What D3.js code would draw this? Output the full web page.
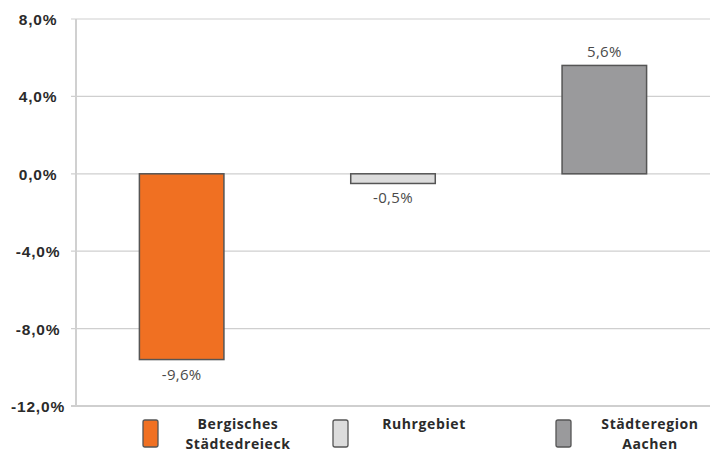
<!DOCTYPE html>
<html>
<head>
<meta charset="utf-8">
<script src="https://cdn.jsdelivr.net/npm/d3@7"></script>
<style>
  body { margin: 0; background: #fff; }
  svg { display: block; font-family: "Open Sans", sans-serif; }
  .tick text { font-weight: 700; font-size: 15.5px; fill: #2b2b2b; letter-spacing: 0.8px; }
  .val { font-size: 15px; fill: #4a4a4a; font-weight: 400; letter-spacing: 0.3px; }
  .leg { font-weight: 700; font-size: 14px; fill: #2b2b2b; letter-spacing: 0.6px; }
</style>
</head>
<body>
<svg id="chart" width="715" height="457"></svg>
<script>
const regions = ["Bergisches Städtedreieck", "Ruhrgebiet", "Städteregion Aachen"];
const values = [-9.6, -0.5, 5.6];
const colors = ["#f07022", "#dcdcdc", "#9a9a9c"];
const yTicks = [8, 4, 0, -4, -8, -12];
const legendLines = [["Bergisches", "Städtedreieck"], ["Ruhrgebiet"], ["Städteregion", "Aachen"]];

const svg = d3.select("#chart");
const fmt = v => d3.format(".1f")(v).replace(".", ",").replace("−", "-") + "%";

const x = d3.scaleBand().domain(regions).range([76, 710]).paddingInner(0.6).paddingOuter(0.3);
const y = d3.scaleLinear().domain([-12, 8]).range([406, 19]);

// gridlines
svg.append("g")
    .selectAll("line")
    .data(yTicks)
    .enter()
    .append("line")
    .attr("x1", 71).attr("x2", 710)
    .attr("y1", d => y(d)).attr("y2", d => y(d))
    .attr("stroke", "#cfcfcf")
    .attr("stroke-width", d => d === -12 ? 2 : 1.2);

// vertical axis line
svg.append("line")
    .attr("x1", 76).attr("x2", 76)
    .attr("y1", y(8)).attr("y2", y(-12))
    .attr("stroke", "#d0d0d0").attr("stroke-width", 2);

// tick labels
const yAxis = svg.append("g")
    .attr("transform", "translate(38,0)")
    .call(d3.axisLeft(y).tickValues(yTicks).tickFormat(fmt).tickSize(0).tickPadding(0));
yAxis.select(".domain").remove();
yAxis.selectAll("text").attr("text-anchor", "middle").attr("dy", "0.35em");

// bars
svg.append("g")
    .selectAll("rect")
    .data(values)
    .enter()
    .append("rect")
    .attr("x", (d, i) => x(regions[i]))
    .attr("width", x.bandwidth())
    .attr("y", d => y(Math.max(0, d)))
    .attr("height", d => Math.abs(y(d) - y(0)))
    .attr("fill", (d, i) => colors[i])
    .attr("stroke", "#555")
    .attr("stroke-width", 1.5);

// value labels
svg.append("g")
    .selectAll("text")
    .data(values)
    .enter()
    .append("text")
    .attr("class", "val")
    .attr("x", (d, i) => x(regions[i]) + x.bandwidth() / 2)
    .attr("y", d => d < 0 ? y(d) + 20 : y(d) - 8)
    .attr("text-anchor", "middle")
    .text(fmt);

// legend
const legX = [143, 333, 556];
const legTextX = [238, 424, 650];
const leg = svg.append("g")
    .selectAll("g")
    .data(regions)
    .enter()
    .append("g");

leg.append("rect")
    .attr("x", (d, i) => legX[i])
    .attr("y", 420)
    .attr("width", 15)
    .attr("height", 27)
    .attr("rx", 2)
    .attr("fill", (d, i) => colors[i])
    .attr("stroke", "#555")
    .attr("stroke-width", 1.3);

leg.each(function(d, i) {
    const t = d3.select(this).append("text")
        .attr("class", "leg")
        .attr("text-anchor", "middle")
        .attr("y", 429);
    legendLines[i].forEach((line, j) => {
        t.append("tspan")
            .attr("x", legTextX[i])
            .attr("dy", j === 0 ? 0 : 20)
            .text(line);
    });
});
</script>
</body>
</html>
